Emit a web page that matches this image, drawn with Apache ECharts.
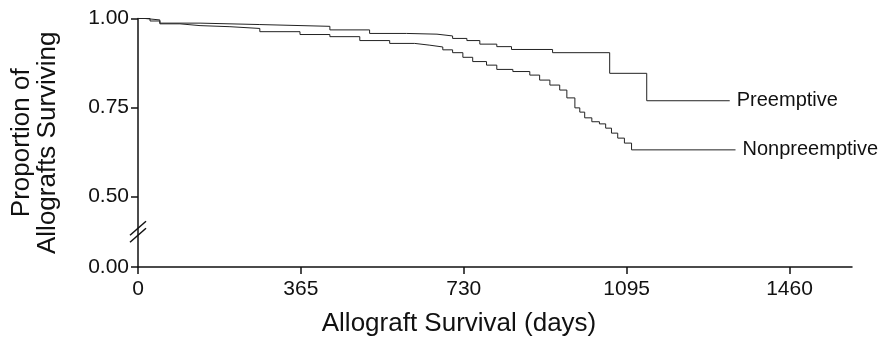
<!DOCTYPE html>
<html>
<head>
<meta charset="utf-8">
<script src="https://cdn.jsdelivr.net/npm/echarts@6/dist/echarts.min.js"></script>
<style>
  html, body { margin: 0; padding: 0; background: #fff; }
  #chart { width: 885px; height: 343px; }
</style>
</head>
<body>
<div id="chart"></div>
<script>
// Kaplan-Meier allograft survival: [day, proportion surviving]
const preemptive = [
  [0, 1.0], [27, 0.993], [49, 0.987], [139, 0.983], [273, 0.978], [430, 0.968],
  [519, 0.958], [602, 0.956], [670, 0.951], [705, 0.944], [737, 0.938], [766, 0.928],
  [804, 0.921], [837, 0.913], [929, 0.904], [1057, 0.846], [1140, 0.769], [1326, 0.769],
];
const nonpreemptive = [
  [0, 1.0], [16, 0.996], [49, 0.985], [94, 0.98], [139, 0.977], [206, 0.972],
  [273, 0.963], [363, 0.955], [430, 0.949], [497, 0.938], [564, 0.93], [620, 0.925],
  [654, 0.92], [683, 0.912], [705, 0.904], [728, 0.891], [750, 0.879], [781, 0.869],
  [804, 0.857], [840, 0.851], [878, 0.841], [900, 0.827], [923, 0.813], [945, 0.799],
  [961, 0.777], [979, 0.749], [990, 0.737], [1001, 0.721], [1017, 0.71], [1034, 0.704],
  [1048, 0.692], [1061, 0.678], [1075, 0.664], [1090, 0.65], [1106, 0.631], [1339, 0.631],
];
const seriesNames = ["Preemptive", "Nonpreemptive"];
const xTicks = [0, 365, 730, 1095, 1460];
const xMax = 1600;
// broken y axis: everything between 0.00 and ~0.30 is cut out, the base stands for 0.00
const yBase = 0.302;
const yTicks = [yBase, 0.5, 0.75, 1.0];
const yTickLabels = ["0.00", "0.50", "0.75", "1.00"];

const font = "'Liberation Sans', Arial, Helvetica, sans-serif";
const ink = "#111";

const chart = echarts.init(document.getElementById("chart"), null, { renderer: "canvas" });

const line = (name, data) => ({
  name,
  type: "line",
  step: "end",
  data,
  symbol: "none",
  lineStyle: { color: "#222", width: 1 },
  endLabel: {
    show: true,
    formatter: "{a}",
    distance: 7,
    color: ink,
    fontFamily: font,
    fontSize: 20,
  },
  silent: true,
});

chart.setOption({
  animation: false,
  backgroundColor: "#fff",
  textStyle: { fontFamily: font, color: ink },
  grid: { left: 138, right: 33, top: 18.5, bottom: 76, containLabel: false, outerBoundsMode: "none" },
  xAxis: {
    type: "value",
    min: 0,
    max: xMax,
    name: "Allograft Survival (days)",
    nameLocation: "middle",
    nameGap: 44,
    nameTextStyle: { fontSize: 26, color: ink, fontFamily: font, padding: [0, 72, 0, 0] },
    axisLine: { lineStyle: { color: ink, width: 1.5 } },
    axisTick: { customValues: xTicks, length: 7, lineStyle: { color: ink, width: 1.5 } },
    axisLabel: { customValues: xTicks, fontSize: 21, color: ink, margin: 12, formatter: (v) => String(v) },
    splitLine: { show: false },
  },
  yAxis: {
    type: "value",
    min: yBase,
    max: 1.0,
    name: "Proportion of\nAllografts Surviving",
    nameLocation: "middle",
    nameGap: 77,
    nameRotate: 90,
    nameTextStyle: { fontSize: 26, color: ink, fontFamily: font, lineHeight: 26 },
    axisLine: { lineStyle: { color: ink, width: 1.5 } },
    axisTick: { customValues: yTicks, length: 7, lineStyle: { color: ink, width: 1.5 } },
    axisLabel: {
      customValues: yTicks,
      fontSize: 21,
      color: ink,
      margin: 9,
      formatter: (v) => yTickLabels[yTicks.findIndex((t) => Math.abs(t - v) < 1e-6)] ?? v.toFixed(2),
    },
    splitLine: { show: false },
  },
  series: [line(seriesNames[0], preemptive), line(seriesNames[1], nonpreemptive)],
});

// "//" break mark on the y axis, halfway between the base and 0.50
const [bx, by] = chart.convertToPixel({ gridIndex: 0 }, [0, (yBase + 0.5) / 2]);
const slash = (dy) => ({
  type: "line",
  shape: { x1: bx - 8, y1: by + 7 + dy, x2: bx + 8, y2: by - 7 + dy },
  style: { stroke: ink, lineWidth: 1.5 },
  silent: true,
});
chart.setOption({ graphic: [slash(-3.5), slash(3.5)] });
</script>
</body>
</html>
